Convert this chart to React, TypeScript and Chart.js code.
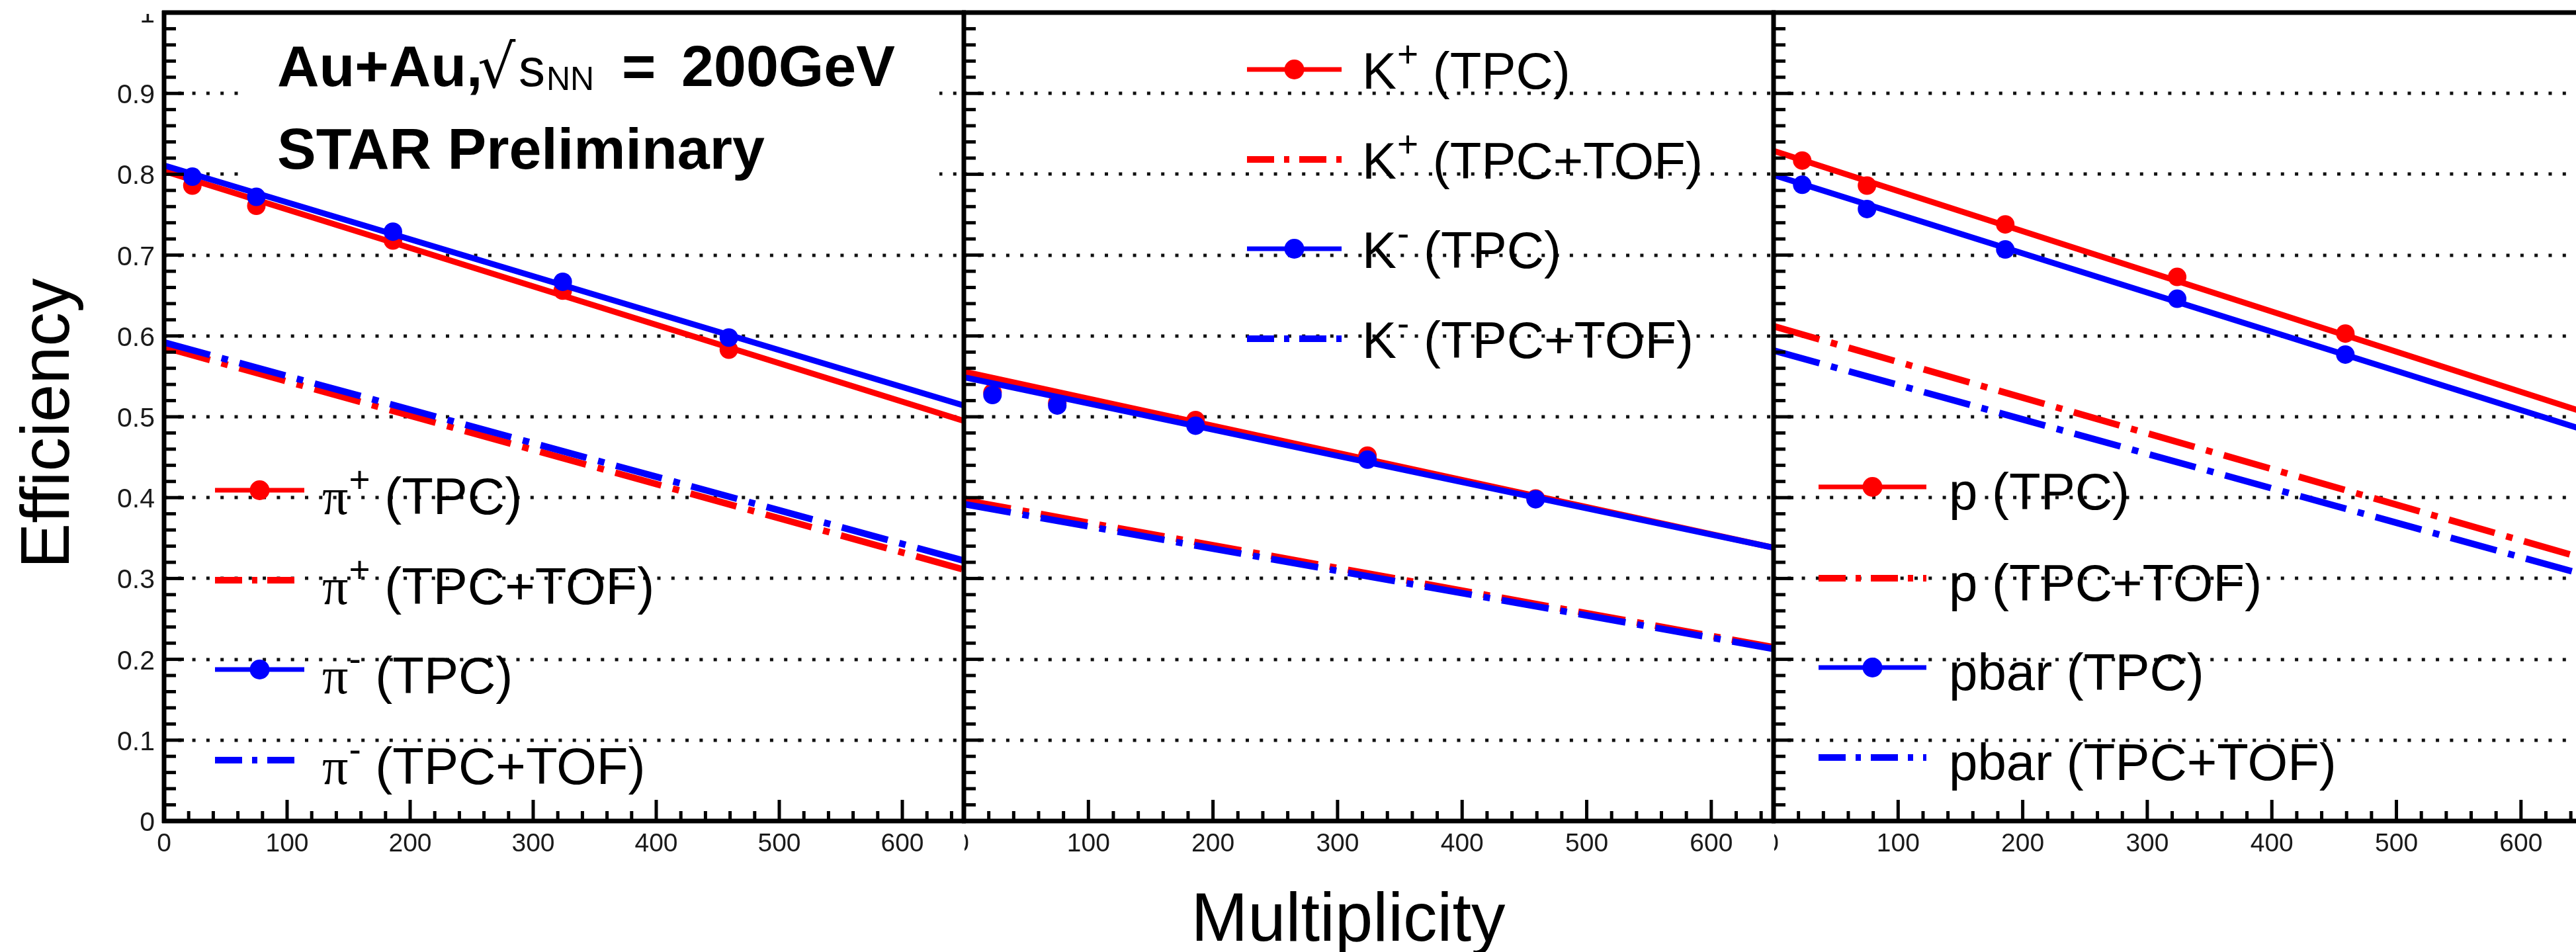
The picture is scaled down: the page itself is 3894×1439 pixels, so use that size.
import React, { useEffect, useRef } from "react";
import { Chart, registerables } from "chart.js";

Chart.register(...registerables);

// ---------------- data ----------------
const multiplicity = [23, 75, 186, 324, 459];
const fitRange = [0, 650];

const piPlusTPC = [0.786, 0.761, 0.718, 0.656, 0.583];
const piMinusTPC = [0.797, 0.772, 0.729, 0.667, 0.598];
const piPlusTPCFit = [0.804, 0.495];
const piMinusTPCFit = [0.811, 0.514];
const piPlusTOFFit = [0.586, 0.311];
const piMinusTOFFit = [0.592, 0.322];

const kPlusTPC = [0.53, 0.517, 0.496, 0.452, 0.399];
const kMinusTPC = [0.527, 0.514, 0.489, 0.447, 0.398];
const kPlusTPCFit = [0.556, 0.338];
const kMinusTPCFit = [0.549, 0.338];
const kPlusTOFFit = [0.397, 0.215];
const kMinusTOFFit = [0.392, 0.213];

const pTPC = [0.817, 0.786, 0.738, 0.673, 0.603];
const pbarTPC = [0.787, 0.757, 0.707, 0.646, 0.577];
const pTPCFit = [0.829, 0.506];
const pbarTPCFit = [0.799, 0.484];
const pTOFFit = [0.612, 0.325];
const pbarTOFFit = [0.582, 0.305];

const xTickValues = [0, 100, 200, 300, 400, 500, 600];
const xTickLabels = ["0", "100", "200", "300", "400", "500", "600"];
const yTickValues = [0, 0.1, 0.2, 0.3, 0.4, 0.5, 0.6, 0.7, 0.8, 0.9, 1];
const yTickLabels = ["0", "0.1", "0.2", "0.3", "0.4", "0.5", "0.6", "0.7", "0.8", "0.9", "1"];

const xAxisTitle = "Multiplicity";
const yAxisTitle = "Efficiency";

// ---------------- styling / layout ----------------
const RED = "#ff0000";
const BLUE = "#0000ff";
const SANS = '"Liberation Sans", Arial, Helvetica, sans-serif';
const SERIF = '"Liberation Serif", "Times New Roman", serif';

const PAGE_W = 3894;
const PAGE_H = 1439;
const CANVAS_W = 3920;
const PLOT_TOP = 19;
const PLOT_BOTTOM = 1241;
const X_MIN = 0;
const X_MAX = 650;

type Entry = { base: string; serif: boolean; sup: string; rest: string; color: string; dashed: boolean };
type Spec = {
  left: number;
  right: number;
  names: string[];
  tpcPlus: number[];
  tpcMinus: number[];
  fitPlus: number[];
  fitMinus: number[];
  tofPlus: number[];
  tofMinus: number[];
  legend: { x0: number; x1: number; tx: number; ys: number[]; dy: number };
  entries: Entry[];
};

const SPECS: Spec[] = [
  {
    left: 248,
    right: 1457,
    names: ["π+ (TPC)", "π+ (TPC+TOF)", "π- (TPC)", "π- (TPC+TOF)"],
    tpcPlus: piPlusTPC,
    tpcMinus: piMinusTPC,
    fitPlus: piPlusTPCFit,
    fitMinus: piMinusTPCFit,
    tofPlus: piPlusTOFFit,
    tofMinus: piMinusTOFFit,
    legend: { x0: 325, x1: 460, tx: 487, ys: [741, 877, 1012, 1149], dy: 8 },
    entries: [
      { base: "π", serif: true, sup: "+", rest: "(TPC)", color: RED, dashed: false },
      { base: "π", serif: true, sup: "+", rest: "(TPC+TOF)", color: RED, dashed: true },
      { base: "π", serif: true, sup: "-", rest: "(TPC)", color: BLUE, dashed: false },
      { base: "π", serif: true, sup: "-", rest: "(TPC+TOF)", color: BLUE, dashed: true },
    ],
  },
  {
    left: 1457,
    right: 2681,
    names: ["K+ (TPC)", "K+ (TPC+TOF)", "K- (TPC)", "K- (TPC+TOF)"],
    tpcPlus: kPlusTPC,
    tpcMinus: kMinusTPC,
    fitPlus: kPlusTPCFit,
    fitMinus: kMinusTPCFit,
    tofPlus: kPlusTOFFit,
    tofMinus: kMinusTOFFit,
    legend: { x0: 1885, x1: 2028, tx: 2059, ys: [105, 241, 376, 512], dy: 1 },
    entries: [
      { base: "K", serif: false, sup: "+", rest: "(TPC)", color: RED, dashed: false },
      { base: "K", serif: false, sup: "+", rest: "(TPC+TOF)", color: RED, dashed: true },
      { base: "K", serif: false, sup: "-", rest: "(TPC)", color: BLUE, dashed: false },
      { base: "K", serif: false, sup: "-", rest: "(TPC+TOF)", color: BLUE, dashed: true },
    ],
  },
  {
    left: 2681,
    right: 3905,
    names: ["p (TPC)", "p (TPC+TOF)", "pbar (TPC)", "pbar (TPC+TOF)"],
    tpcPlus: pTPC,
    tpcMinus: pbarTPC,
    fitPlus: pTPCFit,
    fitMinus: pbarTPCFit,
    tofPlus: pTOFFit,
    tofMinus: pbarTOFFit,
    legend: { x0: 2749, x1: 2912, tx: 2946, ys: [736, 874, 1009, 1145], dy: 6 },
    entries: [
      { base: "p", serif: false, sup: "", rest: "(TPC)", color: RED, dashed: false },
      { base: "p", serif: false, sup: "", rest: "(TPC+TOF)", color: RED, dashed: true },
      { base: "pbar", serif: false, sup: "", rest: "(TPC)", color: BLUE, dashed: false },
      { base: "pbar", serif: false, sup: "", rest: "(TPC+TOF)", color: BLUE, dashed: true },
    ],
  },
];

const PLOT_DASH = [72, 18, 10, 18];
const LEGEND_DASH = [41, 15, 8, 15];

function buildDatasets(s: Spec) {
  const xy = (xs: number[], ys: number[]) => xs.map((x, i) => ({ x, y: ys[i] }));
  const line = (label: string, ys: number[], color: string, dashed: boolean, order: number) => ({
    label,
    data: xy(fitRange, ys),
    showLine: true,
    pointRadius: 0,
    pointHoverRadius: 0,
    borderColor: color,
    backgroundColor: color,
    borderWidth: dashed ? 10 : 9,
    borderDash: dashed ? PLOT_DASH : [],
    borderCapStyle: "butt",
    fill: false,
    tension: 0,
    clip: 0,
    order,
  });
  const markers = (label: string, ys: number[], color: string, order: number) => ({
    label,
    data: xy(multiplicity, ys),
    showLine: false,
    pointRadius: 14,
    pointHoverRadius: 14,
    pointBackgroundColor: color,
    pointBorderColor: color,
    pointBorderWidth: 0,
    backgroundColor: color,
    borderColor: color,
    clip: 0,
    order,
  });
  return [
    markers(s.names[2], s.tpcMinus, BLUE, 0),
    line(s.names[2] + " fit", s.fitMinus, BLUE, false, 1),
    markers(s.names[0], s.tpcPlus, RED, 2),
    line(s.names[0] + " fit", s.fitPlus, RED, false, 3),
    line(s.names[3], s.tofMinus, BLUE, true, 4),
    line(s.names[1], s.tofPlus, RED, true, 5),
  ];
}

function seg(ctx: CanvasRenderingContext2D, x0: number, y0: number, x1: number, y1: number) {
  ctx.beginPath();
  ctx.moveTo(x0, y0);
  ctx.lineTo(x1, y1);
  ctx.stroke();
}

function panelPlugin(idx: number, spec: Spec) {
  return {
    id: "starPanel" + idx,
    beforeDatasetsDraw(chart: any) {
      const { ctx, chartArea: a } = chart;
      const y = chart.scales.y;
      ctx.save();
      // dotted horizontal grid
      ctx.strokeStyle = "#111";
      ctx.lineWidth = 5;
      ctx.lineCap = "butt";
      ctx.setLineDash([5, 16.3]);
      yTickValues.forEach((v) => {
        if (v <= 0 || v >= 1) return;
        const py = Math.round(y.getPixelForValue(v));
        seg(ctx, a.left, py, a.right, py);
      });
      ctx.setLineDash([]);
      if (idx === 0) {
        // opaque box behind the header text
        ctx.fillStyle = "#ffffff";
        ctx.fillRect(375, 36, 1045, 240);
      }
      ctx.restore();
    },
    afterDatasetsDraw(chart: any) {
      const { ctx, chartArea: a } = chart;
      const x = chart.scales.x;
      const y = chart.scales.y;
      ctx.save();
      ctx.setLineDash([]);
      ctx.lineCap = "butt";
      // frame
      ctx.strokeStyle = "#000";
      ctx.lineWidth = 7;
      seg(ctx, a.left, a.top - 3, a.left, a.bottom + 3);
      seg(ctx, a.left - 3, a.bottom, a.right + 3, a.bottom);
      seg(ctx, a.left - 3, a.top, a.right + 3, a.top);
      // ticks
      ctx.lineWidth = 5;
      for (let k = 0; k <= 50; k++) {
        const py = y.getPixelForValue(k / 50);
        const len = k % 5 === 0 ? 30 : 18;
        seg(ctx, a.left, py, a.left + len, py);
      }
      for (let m = 20; m < X_MAX; m += 20) {
        const px = x.getPixelForValue(m);
        const len = m % 100 === 0 ? 32 : 15;
        seg(ctx, px, a.bottom, px, a.bottom - len);
      }
      // x tick labels
      ctx.fillStyle = "#1a1a1a";
      ctx.font = `39px ${SANS}`;
      ctx.textAlign = "center";
      ctx.textBaseline = "alphabetic";
      xTickValues.forEach((v, i) => {
        const px = x.getPixelForValue(v);
        if (v === 0 && idx > 0) {
          ctx.save();
          ctx.beginPath();
          ctx.rect(px + 1, a.bottom + 5, 40, 80);
          ctx.clip();
          ctx.fillText(xTickLabels[i], px - 3, 1287);
          ctx.restore();
        } else {
          ctx.fillText(xTickLabels[i], px, 1287);
        }
      });
      // y tick labels (first panel only)
      if (idx === 0) {
        ctx.textAlign = "right";
        ctx.font = `41px ${SANS}`;
        yTickValues.forEach((v, i) => {
          const py = y.getPixelForValue(v);
          if (v >= 1) {
            ctx.save();
            ctx.beginPath();
            ctx.rect(200, a.top + 2, 48, 40);
            ctx.clip();
            ctx.fillText(yTickLabels[i], 234, py + 15);
            ctx.restore();
          } else {
            ctx.fillText(yTickLabels[i], 234, py + 15);
          }
        });
      }
      // legend
      const L = spec.legend;
      spec.entries.forEach((e, i) => {
        const ly = L.ys[i];
        ctx.strokeStyle = e.color;
        ctx.fillStyle = e.color;
        if (e.dashed) {
          ctx.lineWidth = 10;
          ctx.setLineDash(LEGEND_DASH);
        } else {
          ctx.lineWidth = 7;
          ctx.setLineDash([]);
        }
        seg(ctx, L.x0, ly, L.x1, ly);
        ctx.setLineDash([]);
        if (!e.dashed) {
          ctx.beginPath();
          ctx.arc((L.x0 + L.x1) / 2, ly, 15, 0, Math.PI * 2);
          ctx.fill();
        }
        const base = ly + L.dy + 0.358 * 78;
        let tx = L.tx;
        ctx.fillStyle = "#000";
        ctx.textAlign = "left";
        ctx.font = `78px ${e.serif ? SERIF : SANS}`;
        ctx.fillText(e.base, tx, base);
        tx += ctx.measureText(e.base).width;
        if (e.sup) {
          ctx.font = `55px ${SANS}`;
          ctx.fillText(e.sup, tx + 1, base - 33);
          tx += ctx.measureText(e.sup).width + 1;
        }
        ctx.font = `78px ${SANS}`;
        ctx.fillText(" " + e.rest, tx, base);
      });
      if (idx === 0) {
        // header
        ctx.fillStyle = "#000";
        ctx.textAlign = "left";
        ctx.font = `bold 88px ${SANS}`;
        ctx.fillText("Au+Au,", 419, 130);
        ctx.font = `90px "DejaVu Sans", ${SANS}`;
        ctx.fillText("√", 722, 132);
        ctx.font = `80px ${SANS}`;
        ctx.fillText("s", 784, 130);
        ctx.font = `50px ${SANS}`;
        ctx.fillText("NN", 826, 136);
        ctx.font = `bold 88px ${SANS}`;
        ctx.fillText("=", 940, 130);
        ctx.fillText("200GeV", 1030, 130);
        ctx.fillText("STAR Preliminary", 419, 255);
        // axis titles
        ctx.font = `103px ${SANS}`;
        ctx.textAlign = "center";
        ctx.fillText(xAxisTitle, 2038, 1422);
        ctx.save();
        ctx.translate(104, 640);
        ctx.rotate(-Math.PI / 2);
        ctx.fillText(yAxisTitle, 0, 0);
        ctx.restore();
      }
      ctx.restore();
    },
  };
}

export default function App() {
  const r0 = useRef<HTMLCanvasElement>(null);
  const r1 = useRef<HTMLCanvasElement>(null);
  const r2 = useRef<HTMLCanvasElement>(null);

  useEffect(() => {
    const refs = [r0, r1, r2];
    const charts = SPECS.map((spec, i) => {
      const canvas = refs[i].current as HTMLCanvasElement;
      return new Chart(canvas, {
        type: "scatter",
        data: { datasets: buildDatasets(spec) as any },
        options: {
          responsive: false,
          animation: false,
          events: [],
          layout: {
            padding: {
              left: spec.left,
              right: CANVAS_W - spec.right,
              top: PLOT_TOP,
              bottom: PAGE_H - PLOT_BOTTOM,
            },
          },
          plugins: {
            legend: { display: false },
            tooltip: { enabled: false },
            title: { display: false },
          },
          scales: {
            x: { type: "linear", min: X_MIN, max: X_MAX, display: false },
            y: { type: "linear", min: 0, max: 1, display: false },
          },
        } as any,
        plugins: [panelPlugin(i, spec) as any],
      });
    });
    return () => charts.forEach((c) => c.destroy());
  }, []);

  const canvasStyle: React.CSSProperties = { position: "absolute", left: 0, top: 0 };
  return (
    <div
      style={{
        position: "absolute",
        left: 0,
        top: 0,
        width: PAGE_W,
        height: PAGE_H,
        overflow: "hidden",
        background: "#ffffff",
      }}
    >
      <canvas ref={r0} width={CANVAS_W} height={PAGE_H} style={canvasStyle} />
      <canvas ref={r1} width={CANVAS_W} height={PAGE_H} style={canvasStyle} />
      <canvas ref={r2} width={CANVAS_W} height={PAGE_H} style={canvasStyle} />
    </div>
  );
}
